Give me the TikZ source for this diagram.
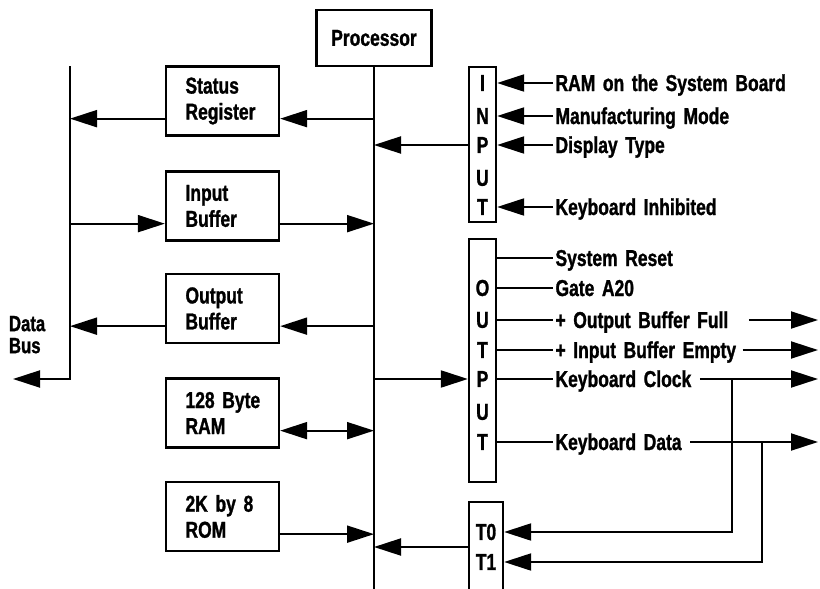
\documentclass[tikz,border=0pt]{standalone}
\usepackage{fontspec}
\setmainfont{Liberation Sans}[UprightFont=* Bold, BoldFont=* Bold, FakeStretch=0.76, FakeBold=1.2, WordSpace=1.25]
\usetikzlibrary{arrows.meta}

\tikzset{
  box/.style={draw, line width=2.3pt, minimum width=113pt, minimum height=69pt,
    text width=74pt, align=left, inner xsep=19.5pt, inner ysep=0pt,
    execute at begin node={\hbadness=10000\hfuzz=30pt}},
  port/.style={draw, line width=2.3pt, inner sep=0pt},
  pin/.style={inner sep=0pt},
  sig/.style={anchor=base west, inner xsep=1.5pt, inner ysep=0pt},
  arr/.style={-{Triangle[length=27pt,width=17pt]}},
  dbl/.style={{Triangle[length=27pt,width=17pt]}-{Triangle[length=27pt,width=17pt]}}
}

\begin{document}
\begin{tikzpicture}[x=1pt, y=-1pt, line width=2pt,
  font=\fontsize{23}{26}\selectfont\bfseries]
	\useasboundingbox (0,0) rectangle (820,589);
	\clip (0,0) rectangle (820,589);
	\coordinate (floor) at (0,600);
	\coordinate (rim) at (818,0);

	% Prozessor und Bus
	\node[draw, line width=2.3pt, minimum width=115pt, minimum height=56pt, inner sep=0pt] (proc) at (374,38) {Processor};
	\draw (proc.south) -- (proc.south |- floor);

	% Datenbus links
	\coordinate (dbtop) at (70,66);
	\coordinate (dbbot) at (70,379);
	\coordinate (dbout) at (13,379);
	\draw[arr] (dbtop) -- (dbbot) -- (dbout);
	\node[anchor=north west, align=left, inner sep=0pt,
	  font=\fontsize{22}{22}\selectfont\bfseries] (dblabel) at (8,315) {Data\\Bus};

	% Bausteine
	\node[box] (statreg) at (222.5,101) {Status\\Register};
	\node[box] (inbuf) at (222.5,206) {Input\\Buffer};
	\node[box] (outbuf) at (222.5,308.5) {Output\\Buffer};
	\node[box] (ram) at (222.5,413) {128~Byte\\RAM};
	\node[box] (rom) at (222.5,516.5) {2K~by~8\\ROM};
	\foreach \b in {statreg, inbuf, outbuf, ram, rom} {
		\coordinate (\b-r) at ([yshift=18pt]\b.south east);
		\coordinate (\b-l) at ([yshift=18pt]\b.south west);
	}
	\draw[arr] (statreg-r -| proc.south) -- (statreg-r);
	\draw[arr] (statreg-l) -- (statreg-l -| dbtop);
	\draw[arr] (inbuf-l -| dbtop) -- (inbuf-l);
	\draw[arr] (inbuf-r) -- (inbuf-r -| proc.south);
	\draw[arr] (outbuf-r -| proc.south) -- (outbuf-r);
	\draw[arr] (outbuf-l) -- (outbuf-l -| dbtop);
	\draw[dbl] (ram-r) -- (ram-r -| proc.south);
	\draw[arr] (rom-r) -- (rom-r -| proc.south);

	% Eingangsport
	\node[port, minimum width=27pt, minimum height=155pt] (inport) at (482.5,144.5) {};
	\foreach \l/\y [count=\i] in {I/83, N/116, P/145, U/178, T/207}
		\node[pin] (in\i) at (482.5,\y) {\l};
	\foreach \i/\y/\txt in {1/83/RAM on the System Board, 2/116/Manufacturing Mode,
	    3/145/Display Type, 5/207/Keyboard Inhibited} {
		\node[sig] (isig\i) at (553,\y+8) {\txt};
		\draw[arr] (isig\i.west |- in\i) -- (in\i -| inport.east);
	}
	\draw[arr] (in3 -| inport.west) -- (in3 -| proc.south);

	% Ausgangsport
	\node[port, minimum width=27pt, minimum height=243pt] (outport) at (482.5,360.5) {};
	\coordinate (out0) at (482.5,258);
	\foreach \l/\y [count=\i] in {O/288, U/320, T/350, P/379, U/412, T/442}
		\node[pin] (out\i) at (482.5,\y) {\l};
	\foreach \i/\y/\txt in {0/258/System Reset, 1/288/Gate A20, 2/320/{+ Output Buffer Full},
	    3/350/{+ Input Buffer Empty}, 4/379/Keyboard Clock, 6/442/Keyboard Data} {
		\node[sig] (osig\i) at (553,\y+8) {\txt};
		\draw (out\i -| outport.east) -- (osig\i.west |- out\i);
	}
	\draw[arr] (out4 -| proc.south) -- (out4 -| outport.west);
	\draw[arr] ([xshift=18pt]osig2.east |- out2) -- (out2 -| rim);
	\draw[arr] ([xshift=4pt]osig3.east |- out3) -- (out3 -| rim);
	\draw[arr] ([xshift=6pt]osig4.east |- out4) -- (out4 -| rim);
	\draw[arr] ([xshift=6pt]osig6.east |- out6) -- (out6 -| rim);

	% Testeingaenge T0/T1
	\node[port, minimum width=34pt, minimum height=98pt] (tport) at (486,551) {};
	\node[pin] (t0) at (486,532) {T0};
	\node[pin] (t1) at (486,562) {T1};
	\coordinate (tmid) at (486,547);
	\draw[arr] (tmid -| tport.west) -- (tmid -| proc.south);
	\coordinate (clkbr) at (732,379);
	\coordinate (datbr) at (762,442);
	\draw[arr] (clkbr) |- (t0 -| tport.east);
	\draw[arr] (datbr) |- (t1 -| tport.east);
\end{tikzpicture}
\end{document}
